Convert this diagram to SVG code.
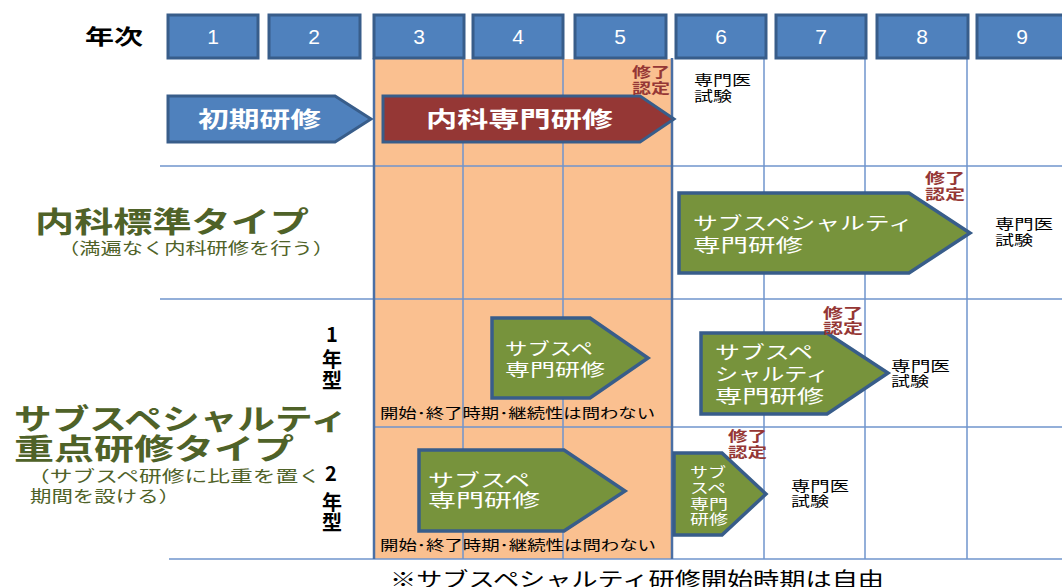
<svg xmlns="http://www.w3.org/2000/svg" width="1062" height="587" viewBox="0 0 1062 587">
<style>
.hdr{fill:#4f81bd;stroke:#385d8a;stroke-width:3}
.num{font-family:"Liberation Sans",Arial,sans-serif;font-size:21px;fill:#ffffff;text-anchor:middle}
.jp{font-family:"Noto Sans CJK JP","Noto Sans",sans-serif}
.grid{stroke:#6f95cc;stroke-width:1.5;fill:none}
.blue{fill:#4f81bd;stroke:#385d8a;stroke-width:3}
.red{fill:#953735;stroke:#385d8a;stroke-width:3}
.green{fill:#77933c;stroke:#385d8a;stroke-width:3.5}
.wt{fill:#ffffff}
.done{fill:#953735;font-weight:bold;font-size:14px}
.exam{fill:#000000;font-size:14px}
.note{fill:#000000;font-size:14px}
.title{fill:#4f6228;font-weight:bold;font-size:29px}
.sub{fill:#4f6228;font-size:16px}
.yt{fill:#000000;font-weight:bold;font-size:20px;text-anchor:middle}
</style>
<rect x="0" y="0" width="1062" height="587" fill="#ffffff"/>
<g id="orange-zone">
<rect x="374" y="59" width="298" height="500" fill="#fac090"/>
</g>
<g id="connectors">
<line class="grid" x1="463" y1="59" x2="463" y2="559"/>
<line class="grid" x1="563" y1="59" x2="563" y2="559"/>
<line class="grid" x1="764" y1="59" x2="764" y2="559"/>
<line class="grid" x1="865" y1="59" x2="865" y2="559"/>
<line class="grid" x1="967" y1="59" x2="967" y2="559"/>
<line class="grid" x1="160" y1="166" x2="1062" y2="166"/>
<line class="grid" x1="160" y1="299" x2="1062" y2="299"/>
<line class="grid" x1="374" y1="427" x2="1062" y2="427"/>
<line class="grid" x1="169" y1="559" x2="1062" y2="559"/>
<line x1="374" y1="58" x2="374" y2="559" stroke="#4a6fa5" stroke-width="2.5"/>
<line x1="672" y1="58" x2="672" y2="559" stroke="#4a6fa5" stroke-width="2.5"/>
</g>
<g id="year-label">
<text class="jp" x="85" y="44" font-size="21" font-weight="bold" textLength="58" lengthAdjust="spacingAndGlyphs" fill="#000">年次</text>
</g>
<g id="year-headers">
<rect class="hdr" x="168" y="15" width="90" height="43"/><text class="num" x="213" y="44">1</text>
<rect class="hdr" x="269" y="15" width="91" height="43"/><text class="num" x="314" y="44">2</text>
<rect class="hdr" x="374" y="15" width="90" height="43"/><text class="num" x="419" y="44">3</text>
<rect class="hdr" x="473" y="15" width="90" height="43"/><text class="num" x="518" y="44">4</text>
<rect class="hdr" x="575" y="15" width="91" height="43"/><text class="num" x="620" y="44">5</text>
<rect class="hdr" x="676" y="15" width="90" height="43"/><text class="num" x="721" y="44">6</text>
<rect class="hdr" x="776" y="15" width="90" height="43"/><text class="num" x="821" y="44">7</text>
<rect class="hdr" x="877" y="15" width="91" height="43"/><text class="num" x="922" y="44">8</text>
<rect class="hdr" x="977" y="15" width="90" height="43"/><text class="num" x="1022" y="44">9</text>
</g>
<g id="initial-training">
<polygon class="blue" points="168,96 335,96 371,119 335,142 168,142"/>
<text class="jp wt" x="198" y="127" font-size="22" font-weight="bold" textLength="123" lengthAdjust="spacingAndGlyphs">初期研修</text>
</g>
<g id="internal-training">
<polygon class="red" points="383,96 640,96 674,119 640,142 383,142"/>
<text class="jp wt" x="426" y="127" font-size="22" font-weight="bold" textLength="187" lengthAdjust="spacingAndGlyphs">内科専門研修</text>
<text class="jp done" x="632" y="77" textLength="38" lengthAdjust="spacingAndGlyphs">修了</text>
<text class="jp done" x="632" y="93" textLength="38" lengthAdjust="spacingAndGlyphs">認定</text>
<text class="jp exam" x="694" y="85" textLength="57" lengthAdjust="spacingAndGlyphs">専門医</text>
<text class="jp exam" x="694" y="101" textLength="38" lengthAdjust="spacingAndGlyphs">試験</text>
</g>
<g id="standard-type">
<text class="jp title" x="35" y="233" textLength="274" lengthAdjust="spacingAndGlyphs">内科標準タイプ</text>
<text class="jp sub" x="58" y="254" textLength="276" lengthAdjust="spacingAndGlyphs">（満遍なく内科研修を行う）</text>
<polygon class="green" points="679,193 909,193 970,233 909,273 679,273"/>
<text class="jp wt" x="693" y="230" font-size="18" textLength="220" lengthAdjust="spacingAndGlyphs">サブスペシャルティ</text>
<text class="jp wt" x="693" y="252" font-size="18" textLength="110" lengthAdjust="spacingAndGlyphs">専門研修</text>
<text class="jp done" x="925" y="183" textLength="40" lengthAdjust="spacingAndGlyphs">修了</text>
<text class="jp done" x="925" y="199" textLength="40" lengthAdjust="spacingAndGlyphs">認定</text>
<text class="jp exam" x="995" y="229" textLength="58" lengthAdjust="spacingAndGlyphs">専門医</text>
<text class="jp exam" x="995" y="245" textLength="38" lengthAdjust="spacingAndGlyphs">試験</text>
</g>
<g id="focus-type">
<text class="jp title" x="14" y="430" textLength="334" lengthAdjust="spacingAndGlyphs">サブスペシャルティ</text>
<text class="jp title" x="14" y="460" textLength="280" lengthAdjust="spacingAndGlyphs">重点研修タイプ</text>
<text class="jp sub" x="27" y="482" textLength="294" lengthAdjust="spacingAndGlyphs">（サブスペ研修に比重を置く</text>
<text class="jp sub" x="30" y="502" textLength="150" lengthAdjust="spacingAndGlyphs">期間を設ける）</text>
</g>
<g id="one-year-type">
<text class="jp yt" x="332" y="342">1</text>
<text class="jp yt" x="332" y="367">年</text>
<text class="jp yt" x="332" y="388">型</text>
<polygon class="green" points="492,318 590,318 648,358 590,398 492,398"/>
<text class="jp wt" x="505" y="355" font-size="17" textLength="88" lengthAdjust="spacingAndGlyphs">サブスペ</text>
<text class="jp wt" x="505" y="376" font-size="17" textLength="100" lengthAdjust="spacingAndGlyphs">専門研修</text>
<text class="jp note" x="380" y="418" textLength="275" lengthAdjust="spacingAndGlyphs">開始･終了時期･継続性は問わない</text>
<polygon class="green" points="701,333 827,333 888,373 827,414 701,414"/>
<text class="jp wt" x="715" y="359" font-size="18" textLength="98" lengthAdjust="spacingAndGlyphs">サブスペ</text>
<text class="jp wt" x="715" y="381" font-size="18" textLength="114" lengthAdjust="spacingAndGlyphs">シャルティ</text>
<text class="jp wt" x="715" y="403" font-size="18" textLength="109" lengthAdjust="spacingAndGlyphs">専門研修</text>
<text class="jp done" x="823" y="318" textLength="40" lengthAdjust="spacingAndGlyphs">修了</text>
<text class="jp done" x="823" y="333" textLength="40" lengthAdjust="spacingAndGlyphs">認定</text>
<text class="jp exam" x="891" y="371" textLength="59" lengthAdjust="spacingAndGlyphs">専門医</text>
<text class="jp exam" x="891" y="386" textLength="38" lengthAdjust="spacingAndGlyphs">試験</text>
</g>
<g id="two-year-type">
<text class="jp yt" x="331" y="481">2</text>
<text class="jp yt" x="332" y="510">年</text>
<text class="jp yt" x="332" y="530">型</text>
<polygon class="green" points="419,450 564,450 625,491 564,531 419,531"/>
<text class="jp wt" x="428" y="487" font-size="18" textLength="102" lengthAdjust="spacingAndGlyphs">サブスペ</text>
<text class="jp wt" x="428" y="507" font-size="18" textLength="112" lengthAdjust="spacingAndGlyphs">専門研修</text>
<text class="jp note" x="380" y="550" textLength="276" lengthAdjust="spacingAndGlyphs">開始･終了時期･継続性は問わない</text>
<polygon class="green" points="674,453 722,453 766,494 722,535 674,535"/>
<text class="jp wt" x="690" y="477" font-size="14" textLength="36" lengthAdjust="spacingAndGlyphs">サブ</text>
<text class="jp wt" x="690" y="493" font-size="14" textLength="36" lengthAdjust="spacingAndGlyphs">スペ</text>
<text class="jp wt" x="690" y="509" font-size="14" textLength="38" lengthAdjust="spacingAndGlyphs">専門</text>
<text class="jp wt" x="690" y="524" font-size="14" textLength="38" lengthAdjust="spacingAndGlyphs">研修</text>
<text class="jp done" x="728" y="441" textLength="39" lengthAdjust="spacingAndGlyphs">修了</text>
<text class="jp done" x="728" y="457" textLength="39" lengthAdjust="spacingAndGlyphs">認定</text>
<text class="jp exam" x="791" y="491" textLength="58" lengthAdjust="spacingAndGlyphs">専門医</text>
<text class="jp exam" x="791" y="506" textLength="38" lengthAdjust="spacingAndGlyphs">試験</text>
</g>
<g id="footnote">
<text class="jp" x="390" y="587" font-size="20" fill="#000" textLength="494" lengthAdjust="spacingAndGlyphs">※サブスペシャルティ研修開始時期は自由</text>
</g>
</svg>
